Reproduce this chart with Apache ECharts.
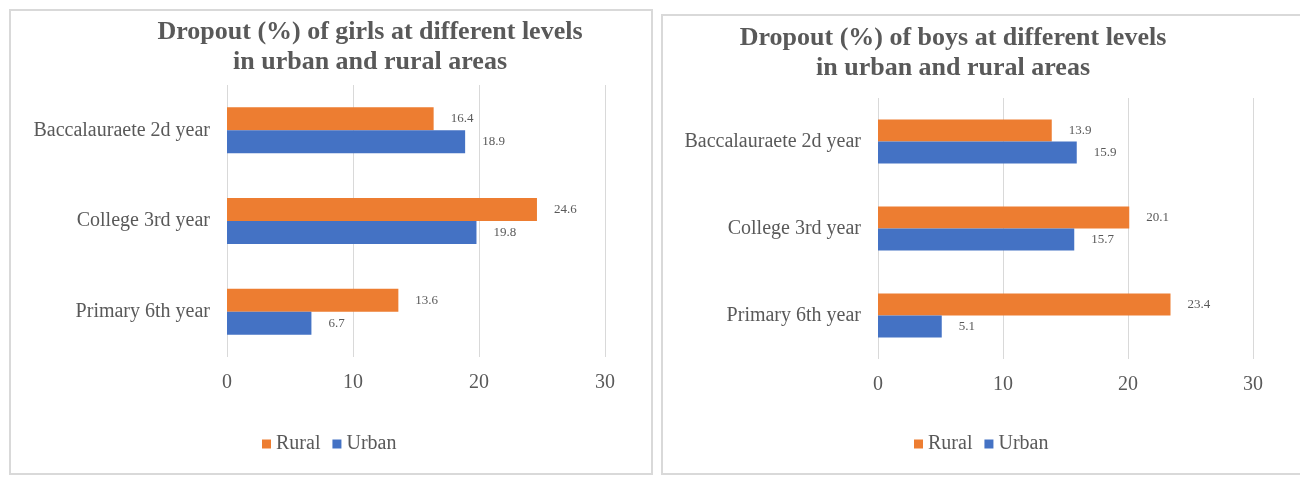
<!DOCTYPE html>
<html>
<head>
<meta charset="utf-8">
<title>Dropout by level</title>
<script src="https://cdn.jsdelivr.net/npm/echarts@6/dist/echarts.min.js"></script>
<style>
  html, body { margin: 0; padding: 0; background: #fff; }
  #chart { width: 1300px; height: 477px; }
</style>
</head>
<body>
<div id="chart"></div>
<script>
// data
const levels = ['Baccalauraete 2d year', 'College 3rd year', 'Primary 6th year'];
const seriesNames = ['Rural', 'Urban'];
const girlsRural = [16.4, 24.6, 13.6];
const girlsUrban = [18.9, 19.8, 6.7];
const boysRural = [13.9, 20.1, 23.4];
const boysUrban = [15.9, 15.7, 5.1];
const xTicks = { min: 0, max: 30, interval: 10 };

const serif = '"Liberation Serif", "Times New Roman", serif';
const grey = '#595959';
const orange = '#ED7D31';
const blue = '#4472C4';

window.addEventListener('load', function () {
  const chart = echarts.init(document.getElementById('chart'));

  function xAxis(idx) {
    return {
      type: 'value', gridIndex: idx,
      min: xTicks.min, max: xTicks.max, interval: xTicks.interval,
      axisLine: { show: false }, axisTick: { show: false },
      splitLine: { show: true, lineStyle: { color: '#d9d9d9', width: 1 } },
      axisLabel: { fontFamily: serif, fontSize: 20, color: grey, margin: 16 }
    };
  }
  function yAxis(idx) {
    return {
      type: 'category', gridIndex: idx, inverse: true, data: levels,
      axisLine: { show: false }, axisTick: { show: false },
      axisLabel: { fontFamily: serif, fontSize: 20, color: grey, margin: 17 }
    };
  }
  function bar(name, data, idx, color, width) {
    return {
      name: name, type: 'bar', xAxisIndex: idx, yAxisIndex: idx,
      data: data, barWidth: width, barGap: '0%',
      itemStyle: { color: color },
      label: {
        show: true, position: 'right', distance: 17,
        fontFamily: serif, fontSize: 13, color: grey
      }
    };
  }
  const titleStyle = {
    fontFamily: serif, fontSize: 26, fontWeight: 'bold', color: grey, lineHeight: 30
  };
  const legendBase = {
    data: seriesNames, icon: 'rect', itemWidth: 9, itemHeight: 9, itemGap: 12,
    padding: 0, textStyle: { fontFamily: serif, fontSize: 20, color: grey }
  };

  chart.setOption({
    animation: false,
    title: [
      { text: 'Dropout (%) of girls at different levels\nin urban and rural areas',
        left: 370, top: 17, textAlign: 'center', padding: 0, textStyle: titleStyle },
      { text: 'Dropout (%) of boys at different levels\nin urban and rural areas',
        left: 953, top: 23, textAlign: 'center', padding: 0, textStyle: titleStyle }
    ],
    legend: [
      Object.assign({ left: 262, top: 434 }, legendBase),
      Object.assign({ left: 914, top: 434 }, legendBase)
    ],
    grid: [
      { left: 227, top: 85, width: 378, height: 272 },
      { left: 878, top: 98, width: 375, height: 261 }
    ],
    xAxis: [xAxis(0), xAxis(1)],
    yAxis: [yAxis(0), yAxis(1)],
    series: [
      bar('Rural', girlsRural, 0, orange, 23),
      bar('Urban', girlsUrban, 0, blue, 23),
      bar('Rural', boysRural, 1, orange, 22),
      bar('Urban', boysUrban, 1, blue, 22)
    ],
    // panel frames
    graphic: [
      { type: 'rect', shape: { x: 10, y: 10, width: 642, height: 464 },
        style: { fill: 'none', stroke: '#d9d9d9', lineWidth: 2 }, silent: true },
      { type: 'rect', shape: { x: 662, y: 15, width: 660, height: 459 },
        style: { fill: 'none', stroke: '#d9d9d9', lineWidth: 2 }, silent: true }
    ]
  });

  window.addEventListener('resize', () => chart.resize());
});
</script>
</body>
</html>
